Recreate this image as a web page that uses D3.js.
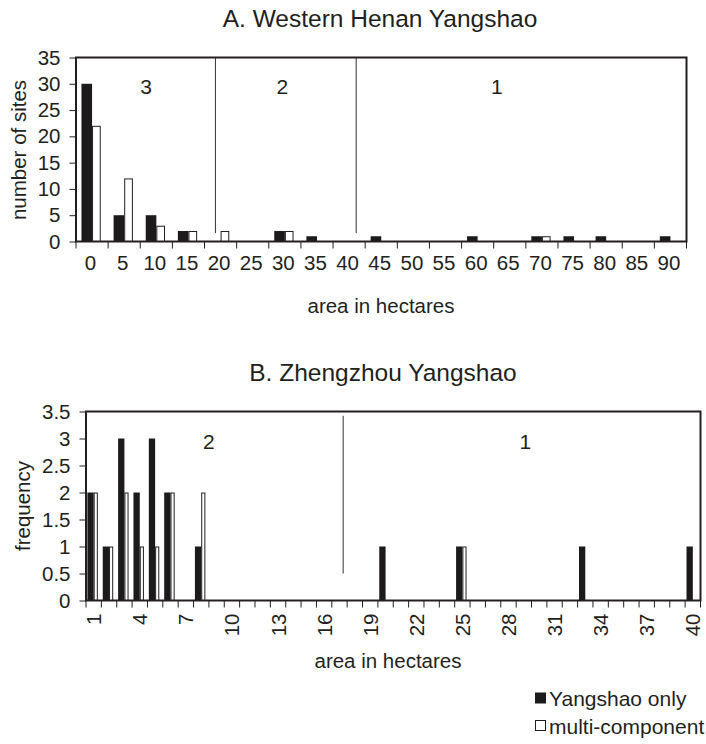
<!DOCTYPE html>
<html>
<head>
<meta charset="utf-8">
<script src="https://cdn.jsdelivr.net/npm/d3@7"></script>
<style>
  body { margin: 0; background: #fff; }
  svg { display: block; }
  text { font-family: "Liberation Sans", Arial, Helvetica, sans-serif; fill: #231f20; }
</style>
</head>
<body>
<svg id="chart" width="706" height="744"></svg>
<script>
// ---- A. Western Henan Yangshao: site counts by size class (ha) ----
const catsA = [0, 5, 10, 15, 20, 25, 30, 35, 40, 45, 50, 55, 60, 65, 70, 75, 80, 85, 90];
const yangshaoA = [30, 5, 5, 2, 0, 0, 2, 1, 0, 1, 0, 0, 1, 0, 1, 1, 1, 0, 1];
const multiA    = [22, 12, 3, 2, 2, 0, 2, 0, 0, 0, 0, 0, 0, 0, 1, 0, 0, 0, 0];
const yTicksA = [0, 5, 10, 15, 20, 25, 30, 35];
// tier boundaries (ha) and tier numbers placed at an area value
const dividersA = [19.2, 41.1];
const tierLabelsA = ["3", "2", "1"];
const tierAtA = [8.4, 29.6, 63];

// ---- B. Zhengzhou Yangshao: frequency by size (ha) ----
const catsB = [1, 2, 3, 4, 5, 6, 7, 8, 9, 10, 11, 12, 13, 14, 15, 16, 17, 18, 19, 20,
               21, 22, 23, 24, 25, 26, 27, 28, 29, 30, 31, 32, 33, 34, 35, 36, 37, 38, 39, 40];
const yangshaoB = [2, 1, 3, 2, 3, 2, 0, 1, 0, 0, 0, 0, 0, 0, 0, 0, 0, 0, 0, 1,
                   0, 0, 0, 0, 1, 0, 0, 0, 0, 0, 0, 0, 1, 0, 0, 0, 0, 0, 0, 1];
const multiB    = [2, 1, 2, 1, 1, 2, 0, 2, 0, 0, 0, 0, 0, 0, 0, 0, 0, 0, 0, 0,
                   0, 0, 0, 0, 1, 0, 0, 0, 0, 0, 0, 0, 0, 0, 0, 0, 0, 0, 0, 0];
const yTicksB = [0, 0.5, 1, 1.5, 2, 2.5, 3, 3.5];
const xLabelsB = [1, 4, 7, 10, 13, 16, 19, 22, 25, 28, 31, 34, 37, 40];
const dividersB = [17.24];
const tierLabelsB = ["2", "1"];
const tierAtB = [8.5, 29.1];

const seriesNames = ["Yangshao only", "multi-component"];

const INK = "#231f20";
const svg = d3.select("#chart");

function panel(opt) {
  const g = svg.append("g");
  const { left, right, top, bottom } = opt.box;

  const x = d3.scaleBand().domain(opt.cats).range([left, right]).paddingInner(0).paddingOuter(0);
  const y = d3.scaleLinear().domain([0, opt.yMax]).range([bottom, top]);
  const bw = x.bandwidth();
  const mid = c => x(c) + bw / 2;
  // area value -> horizontal position (categories are evenly spaced in ha)
  const c0 = opt.cats[0], c1 = opt.cats[opt.cats.length - 1];
  const xv = d3.scaleLinear().domain([c0, c1]).range([mid(c0), mid(c1)]);

  // bars: solid series left of the category centre, open series right of it
  g.append("g").selectAll("rect").data(opt.cats.map((c, i) => ({ c, v: opt.s1[i] })))
    .join("rect")
    .attr("x", d => mid(d.c) - bw * opt.w1)
    .attr("width", bw * opt.w1)
    .attr("y", d => y(d.v))
    .attr("height", d => y(0) - y(d.v))
    .attr("fill", "#1c1a1b");

  g.append("g").selectAll("rect").data(opt.cats.map((c, i) => ({ c, v: opt.s2[i] })).filter(d => d.v > 0))
    .join("rect")
    .attr("x", d => mid(d.c) + 0.5)
    .attr("width", bw * opt.w2 - 1)
    .attr("y", d => y(d.v) + 0.5)
    .attr("height", d => y(0) - y(d.v) - 0.5)
    .attr("fill", "#fff")
    .attr("stroke", INK)
    .attr("stroke-width", 1);

  // tier dividers
  g.append("g").selectAll("line").data(opt.dividers).join("line")
    .attr("x1", d => xv(d)).attr("x2", d => xv(d))
    .attr("y1", y(opt.divTop)).attr("y2", y(opt.divBottom))
    .attr("stroke", "#333").attr("stroke-width", 1);

  // tier numbers
  g.append("g").selectAll("text").data(opt.tierLabels).join("text")
    .attr("x", (d, i) => xv(opt.tierAt[i]))
    .attr("y", y(opt.tierY))
    .attr("text-anchor", "middle")
    .attr("dominant-baseline", "central")
    .style("font-size", "21px")
    .text(d => d);

  // frame
  g.append("rect")
    .attr("x", left).attr("y", top)
    .attr("width", right - left).attr("height", bottom - top)
    .attr("fill", "none").attr("stroke", INK).attr("stroke-width", 2);

  // y axis
  const ya = g.append("g").attr("transform", `translate(${left},0)`)
    .call(d3.axisLeft(y).tickValues(opt.yTicks).tickSize(6.5).tickPadding(opt.yPad).tickFormat(d => String(d)));
  ya.select(".domain").remove();
  ya.selectAll(".tick line").attr("stroke", INK);
  ya.selectAll(".tick text").attr("fill", INK).style("font-size", "20.5px").attr("font-family", null);

  // x tick marks at category boundaries
  const edges = opt.cats.map(c => x(c)).concat([right]);
  g.append("g").selectAll("line").data(edges).join("line")
    .attr("x1", d => d).attr("x2", d => d)
    .attr("y1", bottom).attr("y2", bottom + 7)
    .attr("stroke", INK).attr("stroke-width", 1);

  // x tick labels
  const xa = g.append("g").attr("transform", `translate(0,${bottom})`)
    .call(d3.axisBottom(x).tickValues(opt.xLabels).tickSize(0).tickPadding(0));
  xa.select(".domain").remove();
  xa.selectAll(".tick text").attr("fill", INK).style("font-size", "20.5px").attr("font-family", null);
  if (opt.rotate) {
    xa.selectAll(".tick text")
      .attr("y", 0).attr("dy", null)
      .attr("transform", `translate(0,${opt.xLabelOffset}) rotate(-90)`)
      .attr("text-anchor", "end")
      .attr("dominant-baseline", "central");
  } else {
    xa.selectAll(".tick text")
      .attr("x", -1.5)
      .attr("y", opt.xLabelOffset).attr("dy", null)
      .attr("dominant-baseline", "central");
  }

  // titles
  svg.append("text").attr("x", opt.titleX).attr("y", opt.titleY)
    .attr("text-anchor", "middle").attr("dominant-baseline", "central")
    .style("font-size", "24.5px").text(opt.title);
  svg.append("text").attr("x", opt.xTitleX).attr("y", opt.xTitleY)
    .attr("text-anchor", "middle").attr("dominant-baseline", "central")
    .style("font-size", "20.5px").text(opt.xTitle);
  svg.append("text")
    .attr("transform", `translate(${opt.yTitleX},${opt.yTitleY}) rotate(-90)`)
    .attr("text-anchor", "middle").attr("dominant-baseline", "central")
    .style("font-size", "20.5px").text(opt.yTitle);
}

panel({
  box: { left: 76, right: 686.5, top: 57.5, bottom: 241.5 },
  cats: catsA, s1: yangshaoA, s2: multiA, w1: 0.33, w2: 0.27,
  yMax: 35, yTicks: yTicksA, yPad: 9,
  xLabels: catsA, rotate: false, xLabelOffset: 21,
  dividers: dividersA, divTop: 35, divBottom: 1.6,
  tierLabels: tierLabelsA, tierAt: tierAtA, tierY: 29.5,
  title: "A. Western Henan Yangshao", titleX: 380, titleY: 18,
  xTitle: "area in hectares", xTitleX: 381, xTitleY: 305,
  yTitle: "number of sites", yTitleX: 18, yTitleY: 150
});

panel({
  box: { left: 86, right: 700.5, top: 411.5, bottom: 600.5 },
  cats: catsB, s1: yangshaoB, s2: multiB, w1: 0.41, w2: 0.27,
  yMax: 3.5, yTicks: yTicksB, yPad: 9,
  xLabels: xLabelsB, rotate: true, xLabelOffset: 13,
  dividers: dividersB, divTop: 3.42, divBottom: 0.5,
  tierLabels: tierLabelsB, tierAt: tierAtB, tierY: 2.95,
  title: "B. Zhengzhou Yangshao", titleX: 383, titleY: 372,
  xTitle: "area in hectares", xTitleX: 388, xTitleY: 660,
  yTitle: "frequency", yTitleX: 22, yTitleY: 506
});

// legend
const leg = svg.append("g").selectAll("g").data(seriesNames).join("g")
  .attr("transform", (d, i) => `translate(535,${692.5 + i * 27.5})`);
leg.append("rect")
  .attr("x", (d, i) => i ? 0.5 : 0).attr("y", (d, i) => i ? 0.5 : 0)
  .attr("width", (d, i) => i ? 10 : 11).attr("height", (d, i) => i ? 10 : 11)
  .attr("fill", (d, i) => i ? "#fff" : "#1c1a1b")
  .attr("stroke", (d, i) => i ? INK : "none");
leg.append("text").attr("x", 14).attr("y", 6)
  .attr("dominant-baseline", "central")
  .style("font-size", "21px").text(d => d);
</script>
</body>
</html>
